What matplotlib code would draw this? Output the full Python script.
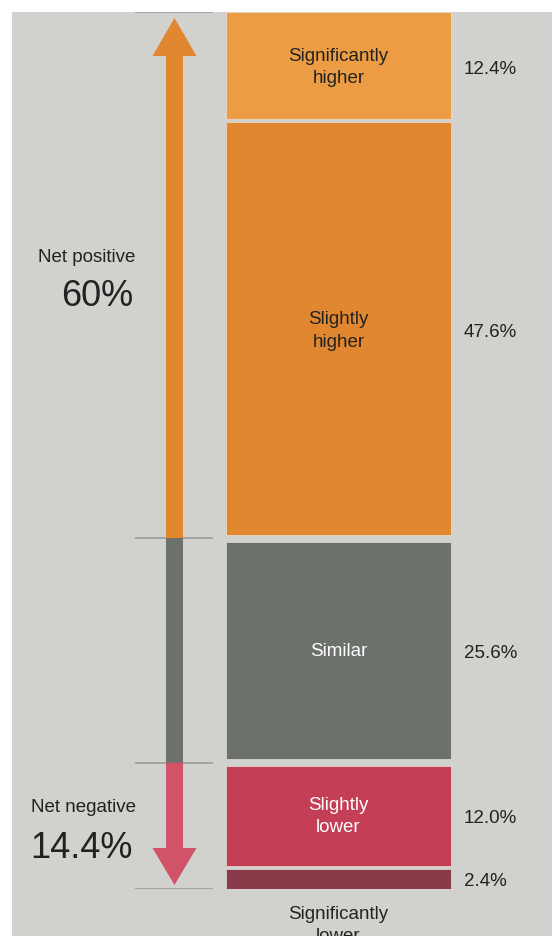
import matplotlib.pyplot as plt
from matplotlib.patches import Rectangle
import numpy as np

# response shares, bottom to top
categories = ['Significantly\nlower', 'Slightly\nlower', 'Similar', 'Slightly\nhigher', 'Significantly\nhigher']
shares = [2.4, 12.0, 25.6, 47.6, 12.4]
value_labels = ['2.4%', '12.0%', '25.6%', '47.6%', '12.4%']
groups = ['neg', 'neg', 'mid', 'pos', 'pos']
net_positive = 60
net_negative = 14.4

bar_colors = ['#8a3b4a', '#c43e55', '#6c716c', '#e0872f', '#ec9d43']
label_colors = ['#222222', 'white', 'white', '#222222', '#222222']
arrow_orange = '#e0872f'
arrow_pink = '#d05368'
arrow_gray = '#6c716c'
panel = '#d1d2cd'
rule = '#9a9c98'

plt.rcParams['font.family'] = ['Liberation Sans', 'DejaVu Sans']

W, H, dpi = 552, 936, 100
fig = plt.figure(figsize=(W / dpi, H / dpi), dpi=dpi, facecolor='white')
fig.add_artist(Rectangle((12 / W, 0), 1 - 12 / W, (H - 12) / H,
                         transform=fig.transFigure, facecolor=panel, edgecolor='none', zorder=0))

# x in pixels, y in percent (0 at the bottom of the stack, 100 at the top)
ax = fig.add_axes([0, 47 / H, 1, 877 / H])
ax.set_xlim(0, W)
ax.set_ylim(0, 100)
ax.axis('off')
ax.patch.set_alpha(0)

bar_x, bar_w = 338.5, 225
small_gap, group_gap = 0.17, 0.4
px = 877 / 100  # pixels per percent
nudge = 3.5 / px  # text sits a touch below the segment middle

bottoms = np.concatenate([[0], np.cumsum(shares)[:-1]])
for i, (cat, v, b) in enumerate(zip(categories, shares, bottoms)):
    lo_pad = 0 if i == 0 else (small_gap if groups[i - 1] == groups[i] else group_gap)
    hi_pad = 0 if i == len(shares) - 1 else (small_gap if groups[i + 1] == groups[i] else group_gap)
    ax.bar(bar_x, v - lo_pad - hi_pad, bottom=b + lo_pad, width=bar_w,
           color=bar_colors[i], edgecolor='#e6e0d8', linewidth=0.5)
    mid = b + v / 2
    ax.text(464, mid - nudge, value_labels[i], ha='left', va='center', fontsize=13.5, color='#222222')
    if i == 0:
        ax.text(bar_x, -1.9, cat, ha='center', va='top', fontsize=13.5,
                color='#222222', linespacing=1.4, clip_on=False)
    else:
        ax.text(bar_x, mid - 1.5 / px, cat, ha='center', va='center', fontsize=13.5,
                color=label_colors[i], linespacing=1.4)

# net arrows on the left
arrow_x = 174.5
shaft_w, head_w = 17, 44
neutral_top = 100 - net_positive
ax.arrow(arrow_x, neutral_top, 0, net_positive - 6 / px, width=shaft_w, head_width=head_w,
         head_length=38 / px, length_includes_head=True, color=arrow_orange, lw=0, zorder=3)
ax.bar(arrow_x, neutral_top - net_negative, bottom=net_negative, width=shaft_w,
       color=arrow_gray, zorder=3)
ax.arrow(arrow_x, net_negative, 0, -(net_negative - 4 / px), width=shaft_w, head_width=head_w,
         head_length=37 / px, length_includes_head=True, color=arrow_pink, lw=0, zorder=3)

ax.hlines([100, neutral_top, net_negative, 0], 135, 213, color=rule, lw=1.2, zorder=2)

ax.text(135, 72.0, 'Net positive', ha='right', va='center', fontsize=13.5, color='#222222')
ax.text(133, 67.6, '%d%%' % net_positive, ha='right', va='center', fontsize=26, color='#222222')
ax.text(136, 9.3, 'Net negative', ha='right', va='center', fontsize=13.5, color='#222222')
ax.text(133, 4.65, '%.1f%%' % net_negative, ha='right', va='center', fontsize=26, color='#222222')

fig.savefig('out.png', dpi=dpi, facecolor='white')
